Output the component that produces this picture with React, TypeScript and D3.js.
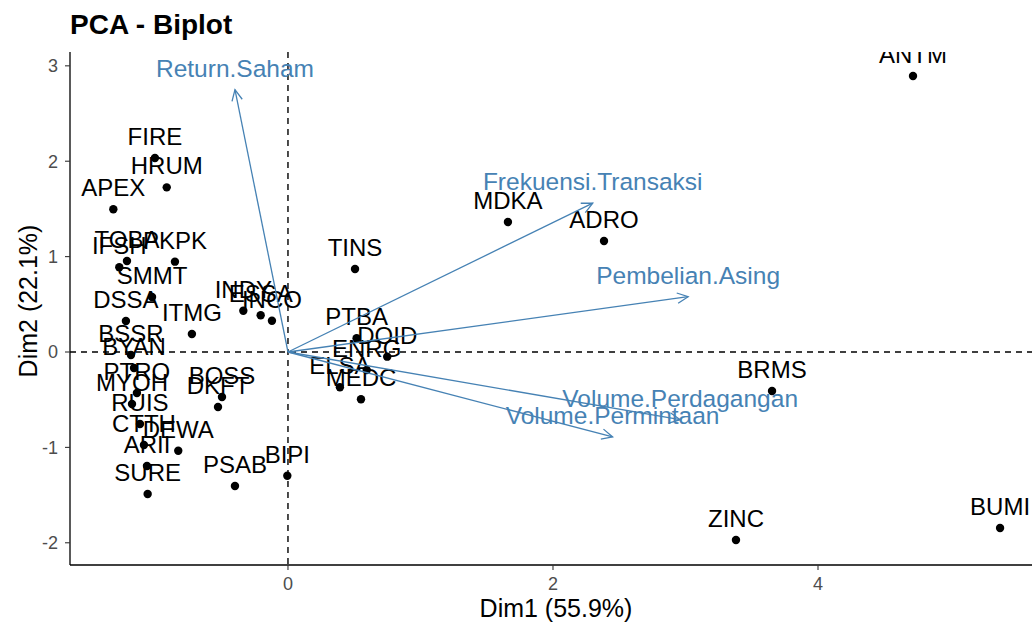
import React from 'react';
import * as d3 from 'd3';

// individuals (stocks) on Dim1 / Dim2
const names = [
  'FIRE', 'HRUM', 'APEX', 'TOBA', 'IFSH', 'PKPK', 'SMMT', 'DSSA', 'ITMG',
  'INDY', 'ESSA', 'INCO', 'BSSR', 'BYAN', 'PTRO', 'MYOH', 'RUIS', 'CTTH',
  'ARII', 'SURE', 'DEWA', 'BOSS', 'DKFT', 'PSAB', 'BIPI', 'PTBA', 'DOID',
  'ENRG', 'ELSA', 'MEDC', 'TINS', 'MDKA', 'ADRO', 'ANTM', 'BRMS', 'ZINC', 'BUMI',
];
const dim1 = [
  -1.004, -0.915, -1.318, -1.215, -1.273, -0.853, -1.026, -1.223, -0.725,
  -0.337, -0.206, -0.121, -1.185, -1.162, -1.140, -1.177, -1.117, -1.087,
  -1.064, -1.059, -0.828, -0.498, -0.528, -0.400, -0.005, 0.518, 0.749,
  0.594, 0.392, 0.551, 0.506, 1.660, 2.385, 4.717, 3.653, 3.381, 5.374,
];
const dim2 = [
  2.034, 1.726, 1.496, 0.954, 0.888, 0.947, 0.577, 0.325, 0.189,
  0.433, 0.385, 0.328, -0.031, -0.168, -0.430, -0.545, -0.755, -0.975,
  -1.195, -1.488, -1.035, -0.472, -0.577, -1.405, -1.297, 0.144, -0.049,
  -0.189, -0.370, -0.496, 0.870, 1.363, 1.164, 2.893, -0.409, -1.971, -1.845,
];

// variable vectors
const varNames = ['Return.Saham', 'Frekuensi.Transaksi', 'Pembelian.Asing', 'Volume.Perdagangan', 'Volume.Permintaan'];
const varX = [-0.40, 2.30, 3.02, 2.96, 2.45];
const varY = [2.75, 1.56, 0.58, -0.71, -0.89];

const xTicks = [0, 2, 4];
const yTicks = [-2, -1, 0, 1, 2, 3];

const W = 1032, H = 628;
const M = { top: 52, right: 0, bottom: 63, left: 70 };
const font = "'Liberation Sans', Arial, sans-serif";
const blue = '#4682B4';

export default function App() {
  const x = d3.scaleLinear().domain([-1.645, 5.615]).range([M.left, W - M.right]);
  const y = d3.scaleLinear().domain([-2.233, 3.145]).range([H - M.bottom, M.top]);
  const x0 = x(0), y0 = y(0);
  const bottom = H - M.bottom;

  const arrowHead = (ex: number, ey: number) => {
    const a = Math.atan2(ey - y0, ex - x0);
    const len = 12, spread = Math.PI / 7;
    const p1 = [ex - len * Math.cos(a - spread), ey - len * Math.sin(a - spread)];
    const p2 = [ex - len * Math.cos(a + spread), ey - len * Math.sin(a + spread)];
    return `M${p1[0]},${p1[1]}L${ex},${ey}L${p2[0]},${p2[1]}`;
  };

  return (
    <svg width={W} height={H} style={{ position: 'fixed', left: 0, top: 0, background: '#fff' }} fontFamily={font}>
      <defs>
        <clipPath id="panel">
          <rect x={M.left} y={M.top} width={W - M.left - M.right} height={bottom - M.top} />
        </clipPath>
      </defs>

      <text x={M.left} y={34} fontSize={28} fontWeight="bold" fill="#000">PCA - Biplot</text>

      <g clipPath="url(#panel)">
        {/* reference lines */}
        <line x1={x0} x2={x0} y1={M.top} y2={bottom} stroke="#000" strokeWidth={1.4} strokeDasharray="6,5" />
        <line x1={M.left} x2={W} y1={y0} y2={y0} stroke="#000" strokeWidth={1.4} strokeDasharray="6,5" />

        {/* points */}
        {names.map((n, i) => (
          <circle key={n} cx={x(dim1[i])} cy={y(dim2[i])} r={4.2} fill="#000" />
        ))}
        {names.map((n, i) => (
          <text key={n + 't'} x={x(dim1[i])} y={y(dim2[i]) - 13} fontSize={24} textAnchor="middle" fill="#000">{n}</text>
        ))}

        {/* variable arrows */}
        {varNames.map((v, i) => {
          const ex = x(varX[i]), ey = y(varY[i]);
          return (
            <g key={v}>
              <line x1={x0} y1={y0} x2={ex} y2={ey} stroke={blue} strokeWidth={1.3} />
              <path d={arrowHead(ex, ey)} fill="none" stroke={blue} strokeWidth={1.3} />
              <text x={ex} y={ey - 13} fontSize={24.5} textAnchor="middle" fill={blue}>{v}</text>
            </g>
          );
        })}
      </g>

      {/* axes */}
      <line x1={M.left} x2={M.left} y1={M.top} y2={bottom} stroke="#000" strokeWidth={1.3} />
      <line x1={M.left} x2={W} y1={bottom} y2={bottom} stroke="#000" strokeWidth={1.3} />
      {yTicks.map(t => (
        <g key={'y' + t}>
          <line x1={M.left - 5} x2={M.left} y1={y(t)} y2={y(t)} stroke="#333" strokeWidth={1.1} />
          <text x={M.left - 12} y={y(t)} dy="0.36em" textAnchor="end" fontSize={18} fill="#4d4d4d">{t}</text>
        </g>
      ))}
      {xTicks.map(t => (
        <g key={'x' + t}>
          <line x1={x(t)} x2={x(t)} y1={bottom} y2={bottom + 5} stroke="#333" strokeWidth={1.1} />
          <text x={x(t)} y={bottom + 25} textAnchor="middle" fontSize={18} fill="#4d4d4d">{t}</text>
        </g>
      ))}

      <text x={556} y={617} textAnchor="middle" fontSize={25} fill="#000">Dim1 (55.9%)</text>
      <text transform="translate(37,301) rotate(-90)" textAnchor="middle" fontSize={25} fill="#000">Dim2 (22.1%)</text>
    </svg>
  );
}
